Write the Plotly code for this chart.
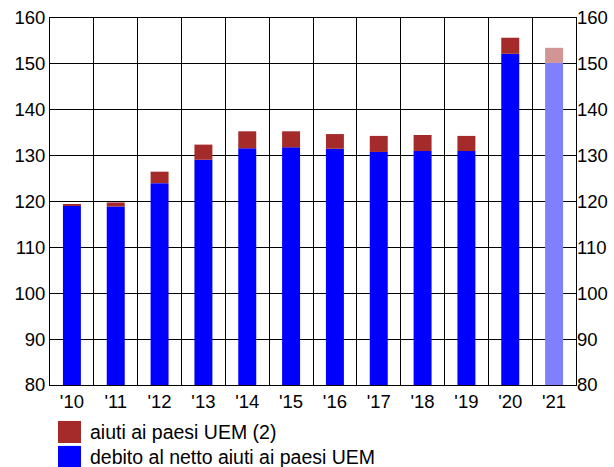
import plotly.graph_objects as go

years = ["'10", "'11", "'12", "'13", "'14", "'15", "'16", "'17", "'18", "'19", "'20", "'21"]
debito_netto = [119.2, 118.9, 124.0, 129.1, 131.6, 131.8, 131.5, 130.8, 131.0, 131.0, 152.2, 150.2]
aiuti_uem = [0.2, 0.9, 2.5, 3.3, 3.7, 3.5, 3.2, 3.5, 3.5, 3.3, 3.5, 3.3]

blue = ['#0000ff'] * 11 + ['#8080ff']
red = ['#a52a2a'] * 11 + ['#d29595']

fig = go.Figure()

fig.add_trace(go.Bar(
    x=years, y=debito_netto,
    marker=dict(color=blue, line=dict(width=0)),
    width=0.41, base=0,
    name='debito al netto aiuti ai paesi UEM',
    showlegend=False,
))
fig.add_trace(go.Bar(
    x=years, y=aiuti_uem,
    base=debito_netto,
    marker=dict(color=red, line=dict(width=0)),
    width=0.41,
    name='aiuti ai paesi UEM (2)',
    showlegend=False,
))
# invisible trace so the right axis is drawn
fig.add_trace(go.Scatter(x=years, y=debito_netto, yaxis='y2', mode='none',
                         showlegend=False, hoverinfo='skip'))

axis_font = dict(family='Liberation Sans, Arial', size=18.5, color='black')
legend_font = dict(family='Liberation Sans, Arial', size=19.5, color='black')

fig.update_layout(
    width=614, height=467,
    margin=dict(l=50, r=38, t=18, b=82),
    plot_bgcolor='white',
    paper_bgcolor='white',
    barmode='overlay',
    font=axis_font,
    xaxis=dict(
        type='category',
        tickson='boundaries',
        showgrid=True, gridcolor='black', gridwidth=1,
        showline=True, linecolor='black', linewidth=1, mirror=True,
        ticks='', tickfont=axis_font, automargin=False,
        range=[-0.5, 11.5],
    ),
    yaxis=dict(
        range=[80, 160], dtick=10,
        showgrid=True, gridcolor='black', gridwidth=1,
        showline=True, linecolor='black', linewidth=1, mirror=True,
        ticks='', tickfont=axis_font, zeroline=False, automargin=False,
    ),
    yaxis2=dict(
        range=[80, 160], dtick=10, overlaying='y', side='right',
        showgrid=False, ticks='', tickfont=axis_font, zeroline=False,
        showline=False, automargin=False,
    ),
)

# legend drawn by hand below the plot
legend_items = [('aiuti ai paesi UEM (2)', '#a52a2a'),
                ('debito al netto aiuti ai paesi UEM', '#0000ff')]
for i, (label, col) in enumerate(legend_items):
    y0 = -0.098 - i * 0.068
    fig.add_shape(type='rect', xref='paper', yref='paper',
                  x0=0.0152, x1=0.0589, y0=y0 - 0.06, y1=y0,
                  fillcolor=col, line=dict(width=0))
    fig.add_annotation(xref='paper', yref='paper', x=0.0722, y=y0 - 0.03,
                       text=label, showarrow=False, xanchor='left',
                       yanchor='middle', font=legend_font)

fig.write_html("out.html", config={'displayModeBar': False},
               post_script="document.body.style.margin='0';")
